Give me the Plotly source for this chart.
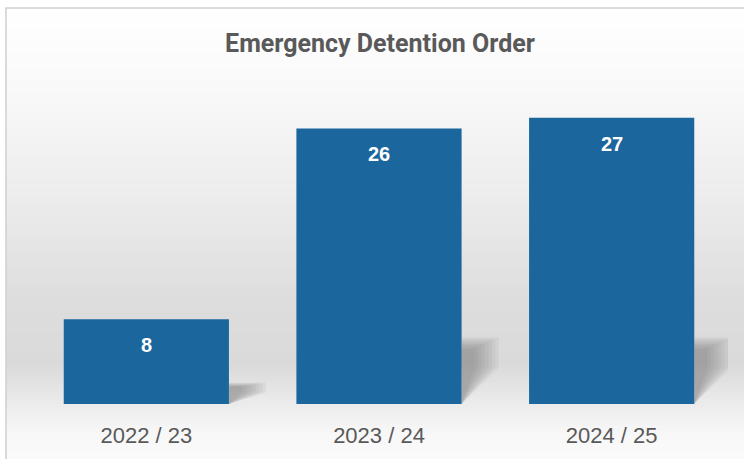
import plotly.graph_objects as go

# ---- data ----
categories = ["2022 / 23", "2023 / 24", "2024 / 25"]
values = [8, 26, 27]
title_text = "Emergency Detention Order"

BAR_COLOR = "#1B669D"
TEXT_GRAY = "#595959"

W, H = 744, 459
ML, MR, MT, MB = 30, 16, 86, 55
plot_h = H - MT - MB

def py_to_paper(py):
    return (H - MB - py) / plot_h

def px_to_paper(px):
    return (px - ML) / (W - ML - MR)

# background gradient stops: (pixel y, gray level)
stops = [(8, 255), (100, 248), (200, 236), (300, 221), (365, 218), (405, 236), (435, 248), (459, 250)]

def gray_at(py):
    for (y0, g0), (y1, g1) in zip(stops[:-1], stops[1:]):
        if y0 <= py <= y1:
            t = (py - y0) / (y1 - y0)
            return g0 + (g1 - g0) * t
    return stops[-1][1]

shapes = []
step = 3
py = 8
while py < H:
    g = int(round(gray_at(py + step / 2)))
    shapes.append(dict(type="rect", xref="paper", yref="paper", layer="below",
                       x0=px_to_paper(6), x1=px_to_paper(W + 5),
                       y0=py_to_paper(py + step), y1=py_to_paper(py),
                       fillcolor=f"rgb({g},{g},{g})", line=dict(width=0)))
    py += step

# outer border
shapes.append(dict(type="rect", xref="paper", yref="paper", layer="below",
                   x0=px_to_paper(6), x1=px_to_paper(W + 5),
                   y0=py_to_paper(H + 5), y1=py_to_paper(8),
                   fillcolor="rgba(0,0,0,0)", line=dict(color="#d0d0d0", width=1.5)))

# soft perspective shadows behind bars
bw = 0.71
for i, v in enumerate(values):
    sh = min(v * 0.25, 6.3)
    xr = i + bw / 2
    n = 8
    for k in range(n):
        d = 0.16 - 0.015 * k
        top = sh * (1 - 0.025 * k)
        shapes.append(dict(type="path", xref="x", yref="y", layer="below",
                           path=f"M {xr},{top} L {xr+d},{top} L {xr+d},{sh*0.55} L {xr},0 Z",
                           fillcolor="rgba(100,100,100,0.07)", line=dict(width=0)))

fig = go.Figure(go.Bar(
    x=list(range(len(categories))), y=values, width=bw,
    marker=dict(color=BAR_COLOR, line=dict(width=0)),
    hoverinfo="skip",
))

annotations = [dict(x=i, y=v, xref="x", yref="y", text=f"<b>{v}</b>", showarrow=False,
                    yanchor="middle", yshift=-26,
                    font=dict(family="Liberation Sans, Arial", size=20, color="white"))
               for i, v in enumerate(values)]

fig.update_layout(
    width=W, height=H,
    margin=dict(l=ML, r=MR, t=MT, b=MB),
    paper_bgcolor="white", plot_bgcolor="rgba(0,0,0,0)",
    showlegend=False,
    bargap=0.29,
    title=dict(text=f"<b>{title_text}</b>", x=380 / W,
               xanchor="center", y=1 - 43 / H, yanchor="middle",
               font=dict(family="Roboto", size=25, color=TEXT_GRAY)),
    xaxis=dict(tickmode="array", tickvals=list(range(len(categories))), ticktext=categories,
               range=[-0.5, len(categories) - 0.5], showgrid=False, zeroline=False,
               showline=False, ticks="", tickfont=dict(family="Liberation Sans, Arial", size=22, color=TEXT_GRAY),
               ticklabelstandoff=16),
    yaxis=dict(range=[0, 30], visible=False, showgrid=False, zeroline=False),
    shapes=shapes,
    annotations=annotations,
)

fig.write_html("out.html", config={"displayModeBar": False},
               post_script="document.body.style.margin='0px';document.body.style.overflow='hidden';")
